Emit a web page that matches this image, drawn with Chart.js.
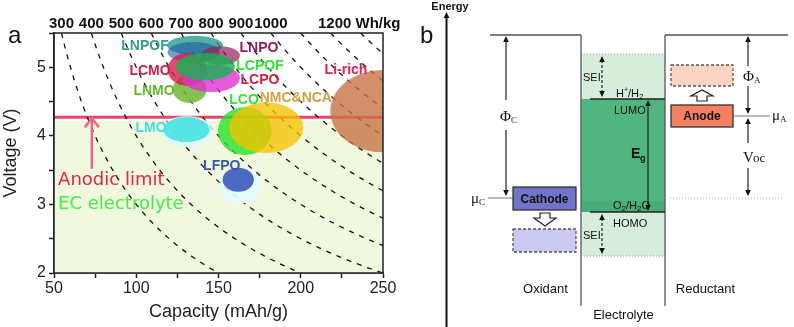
<!DOCTYPE html>
<html>
<head>
  <title>Cathode materials and energy levels</title>
  <script src="https://cdn.jsdelivr.net/npm/chart.js@4.4.1/dist/chart.umd.min.js"></script>
  <style>
    body{margin:0;background:#fff;width:794px;height:327px;overflow:hidden;position:relative}
    #chartA{position:absolute;left:0;top:0}
    #chartB{position:absolute;left:400px;top:0}
  </style>
</head>
<body>
<canvas id="chartA" width="400" height="327"></canvas>
<canvas id="chartB" width="394" height="327"></canvas>

<script>
// ---- panel a data ----
var capMin = 50, capMax = 250
var voltMin = 2, voltMax = 5.5
var energyLines = [300,400,500,600,700,800,900,1000,1100,1200,1300] // Wh/kg iso lines
var energyLabels = [300,400,500,600,700,800,900,1000,1200]
var energyUnit = "Wh/kg"
var anodicLimit = 4.27
var shadeTop = 4.22

// material regions (ellipses), drawn in this order
var regionCap      = [250, 166, 179, 131, 130.5, 163, 162, 132.5, 135.7, 135, 151, 131, 145.5, 142]
var regionVolt     = [4.36, 4.07, 4.12, 4.07, 4.09, 3.28, 3.36, 4.68, 5.32, 5.22, 5.17, 4.97, 4.84, 5.01]
var regionCapHalf  = [32, 16.4, 22.5, 16, 14, 12.5, 9.5, 10.3, 17, 16, 12, 12, 17.5, 18]
var regionVoltHalf = [0.6, 0.35, 0.37, 0.22, 0.18, 0.27, 0.175, 0.2, 0.14, 0.15, 0.135, 0.24, 0.2, 0.2]
var regionColor = [
  "rgba(200,115,70,0.8)",   // Li-rich
  "rgba(40,225,40,0.8)",    // LCO
  "rgba(245,195,0,0.78)",   // NMC&NCA
  "rgba(215,250,250,0.8)",  // LMO halo
  "rgba(60,225,225,0.85)",  // LMO
  "rgba(225,252,252,0.9)",  // LFPO halo
  "rgba(50,80,185,0.85)",   // LFPO
  "rgba(110,185,50,0.85)",  // LNMO
  "rgba(40,155,140,0.8)",   // LNPOF
  "rgba(30,90,170,0.6)",    // LNPOF (inner)
  "rgba(150,30,90,0.7)",    // LNPO
  "rgba(215,30,75,0.8)",    // LCMO
  "rgba(225,50,210,0.8)",   // LCPO
  "rgba(20,180,80,0.8)"     // LCPOF
]

var labelNames = ["LNPOF","LNPO","LCMO","LCPOF","LCPO","LNMO","LMO","LCO","NMC&NCA","Li-rich","LFPO"]
var labelCap   = [105.3, 174.6, 108.4, 175.2, 175.2, 110.8, 109, 165.5, 197, 227.5, 152]
var labelVolt  = [5.31, 5.28, 4.95, 5.01, 4.81, 4.65, 4.11, 4.52, 4.55, 4.96, 3.56]
var labelColor = ["#3a9a95","#8c1f55","#d41d45","#33e233","#d41d45","#66b828","#44dede","#33e233","#d4a040","#e0204a","#3a5aa8"]

// ---- iso-energy curves V = E / C ----
var isoSets = []
for(i=0;i<energyLines.length;i++){
  var E = energyLines[i]
  var c0 = Math.max(capMin, E/voltMax), c1 = Math.min(capMax, E/voltMin)
  var pts = []
  for(c=c0;c<c1;c+=2){ pts.push({x:c, y:E/c}) }
  pts.push({x:c1, y:E/c1})
  isoSets.push({data:pts, showLine:true, pointRadius:0, borderColor:"#111", borderWidth:1.3, borderDash:[5,6]})
}

var panelA = {
  id: "panelA",
  beforeDatasetsDraw: function(chart){
    var ctx = chart.ctx, a = chart.chartArea, y = chart.scales.y
    ctx.save()
    var ys = y.getPixelForValue(shadeTop)
    ctx.fillStyle = "#f0f8de"
    ctx.fillRect(a.left, ys, a.width, a.bottom-ys)
    // anodic limit
    var yl = y.getPixelForValue(anodicLimit)
    ctx.strokeStyle = "#ec4468"; ctx.lineWidth = 3
    ctx.beginPath(); ctx.moveTo(a.left, yl); ctx.lineTo(a.right, yl); ctx.stroke()
    ctx.restore()
  },
  afterDatasetsDraw: function(chart){
    var ctx = chart.ctx, a = chart.chartArea, x = chart.scales.x, y = chart.scales.y
    ctx.save()
    ctx.beginPath(); ctx.rect(a.left, a.top, a.width, a.height); ctx.clip()
    for(i=0;i<regionCap.length;i++){
      var cx = x.getPixelForValue(regionCap[i]), cy = y.getPixelForValue(regionVolt[i])
      var rx = Math.abs(x.getPixelForValue(regionCap[i]+regionCapHalf[i]) - cx)
      var ry = Math.abs(y.getPixelForValue(regionVolt[i]+regionVoltHalf[i]) - cy)
      ctx.fillStyle = regionColor[i]
      ctx.beginPath(); ctx.ellipse(cx, cy, rx, ry, 0, 0, Math.PI*2); ctx.fill()
    }
    ctx.restore()

    ctx.save()
    ctx.font = "bold 14px 'Liberation Sans', Arial"
    ctx.textAlign = "center"; ctx.textBaseline = "middle"
    for(i=0;i<labelNames.length;i++){
      ctx.fillStyle = labelColor[i]
      ctx.fillText(labelNames[i], x.getPixelForValue(labelCap[i]), y.getPixelForValue(labelVolt[i]))
    }
    // arrow to the anodic limit
    var ax = x.getPixelForValue(73), ay0 = y.getPixelForValue(3.52), ay1 = y.getPixelForValue(anodicLimit)+1
    ctx.strokeStyle = "#e8668a"; ctx.lineWidth = 2.5
    ctx.beginPath(); ctx.moveTo(ax, ay0); ctx.lineTo(ax, ay1); ctx.stroke()
    ctx.beginPath(); ctx.moveTo(ax-7, ay1+9); ctx.lineTo(ax, ay1); ctx.lineTo(ax+7, ay1+9); ctx.stroke()
    ctx.textAlign = "left"
    ctx.font = "18px 'DejaVu Sans', sans-serif"
    ctx.fillStyle = "#e8204a"
    ctx.fillText("Anodic limit", x.getPixelForValue(52.5), y.getPixelForValue(3.35))
    ctx.fillStyle = "#44ee44"
    ctx.fillText("EC electrolyte", x.getPixelForValue(52.5), y.getPixelForValue(3.0))
    ctx.restore()
  },
  afterDraw: function(chart){
    var ctx = chart.ctx, a = chart.chartArea, x = chart.scales.x
    ctx.save()
    ctx.strokeStyle = "#222"; ctx.lineWidth = 1.5
    ctx.strokeRect(a.left, a.top, a.width, a.height)
    // energy density labels on top
    ctx.fillStyle = "#111"
    ctx.font = "bold 15px 'Liberation Sans', Arial"
    ctx.textBaseline = "alphabetic"
    for(i=0;i<energyLabels.length;i++){
      var px = x.getPixelForValue(energyLabels[i]/voltMax)
      var t = String(energyLabels[i])
      if(i == energyLabels.length-1){
        ctx.textAlign = "left"
        ctx.fillText(t + " " + energyUnit, px - ctx.measureText(t).width/2 + 4, a.top-5)
      } else {
        ctx.textAlign = "center"
        ctx.fillText(t, px, a.top-5)
      }
    }
    ctx.textAlign = "left"
    ctx.font = "24px 'Liberation Sans', Arial"
    ctx.fillText("a", 8, 43)
    ctx.restore()
  }
}

new Chart(document.getElementById("chartA").getContext("2d"), {
  type: "scatter",
  data: { datasets: isoSets },
  options: {
    responsive: false, animation: false,
    layout: { padding: { top: 33, right: 17, left: 0, bottom: 0 } },
    plugins: { legend: { display: false }, tooltip: { enabled: false } },
    scales: {
      x: {
        type: "linear", min: capMin, max: capMax,
        ticks: { stepSize: 25, autoSkip: false, maxRotation: 0, padding: 1, color: "#222",
          font: { family: "'Liberation Sans', Arial", size: 16 },
          callback: function(v){ return v % 50 === 0 ? v : "" } },
        grid: { drawOnChartArea: false, tickLength: 5, color: "#222", tickWidth: 1.5 },
        border: { color: "#222", width: 1.5 },
        title: { display: true, text: "Capacity (mAh/g)", color: "#222",
          font: { family: "'Liberation Sans', Arial", size: 18 }, padding: { top: 0, bottom: 4 } },
        afterFit: function(s){ s.height = 54 }
      },
      y: {
        type: "linear", min: voltMin, max: voltMax,
        ticks: { stepSize: 0.5, autoSkip: false, padding: 3, color: "#222",
          font: { family: "'Liberation Sans', Arial", size: 16 },
          callback: function(v){ return Number.isInteger(v) ? v : "" } },
        grid: { drawOnChartArea: false, tickLength: 5, color: "#222", tickWidth: 1.5 },
        border: { color: "#222", width: 1.5 },
        title: { display: true, text: "Voltage (V)", color: "#222",
          font: { family: "'Liberation Sans', Arial", size: 18 }, padding: { top: 0, bottom: 0 } },
        afterFit: function(s){ s.width = 54 }
      }
    }
  },
  plugins: [panelA]
})

// ---- panel b: energy diagram (diagram units = pixels of the panel) ----
var levelTop = 35, levelSeiTop = 54, levelLumo = 99, levelMuA = 116, levelMuC = 198, levelHomo = 212, levelSeiBottom = 256, levelFloor = 306
var electrolyteLeft = 181, electrolyteRight = 265

function arrowHead(ctx, x, y, dir){ // dir -1 = up, 1 = down
  ctx.beginPath(); ctx.moveTo(x, y); ctx.lineTo(x-2.8, y-dir*6); ctx.lineTo(x+2.8, y-dir*6); ctx.closePath(); ctx.fill()
}
function vLine(ctx, x, y0, y1){ ctx.beginPath(); ctx.moveTo(x, y0); ctx.lineTo(x, y1); ctx.stroke() }
function hLine(ctx, x0, x1, y){ ctx.beginPath(); ctx.moveTo(x0, y); ctx.lineTo(x1, y); ctx.stroke() }

var panelB = {
  id: "panelB",
  afterDraw: function(chart){
    var ctx = chart.ctx, X = chart.scales.x, Y = chart.scales.y
    var px = function(v){ return X.getPixelForValue(v) }, py = function(v){ return Y.getPixelForValue(v) }
    var L = px(electrolyteLeft), R = px(electrolyteRight)
    ctx.save()
    // electrolyte window
    ctx.fillStyle = "#d7eddc"
    ctx.fillRect(L, py(levelSeiTop), R-L, py(levelLumo)-py(levelSeiTop))
    ctx.fillRect(L, py(levelHomo), R-L, py(levelSeiBottom)-py(levelHomo))
    ctx.fillStyle = "#52b580"
    ctx.fillRect(L, py(levelLumo), R-L, py(levelHomo)-py(levelLumo))
    ctx.fillStyle = "#48ae78"
    ctx.fillRect(L, py(levelHomo-11), R-L, 11)
    ctx.strokeStyle = "#9a9a9a"; ctx.lineWidth = 1; ctx.setLineDash([1,2])
    hLine(ctx, L, R, py(levelSeiTop)); hLine(ctx, L, R, py(levelSeiBottom))
    ctx.strokeStyle = "#aaa"
    hLine(ctx, px(270), px(382), py(levelMuC))
    ctx.setLineDash([])

    // electrode walls
    ctx.strokeStyle = "#555"; ctx.lineWidth = 1.3
    hLine(ctx, px(90), L, py(levelTop)); hLine(ctx, R, px(388), py(levelTop))
    vLine(ctx, L, py(levelTop), py(levelFloor)); vLine(ctx, R, py(levelTop), py(levelFloor))

    // energy axis
    ctx.strokeStyle = "#111"; ctx.fillStyle = "#111"; ctx.lineWidth = 2
    vLine(ctx, px(46.5), py(18), py(327)); arrowHead(ctx, px(46.5), py(12), -1)

    // HOMO / LUMO lines
    ctx.strokeStyle = "#222"; ctx.lineWidth = 1.5
    hLine(ctx, px(190), R, py(levelLumo)); hLine(ctx, px(190), R, py(levelHomo))

    // arrows
    ctx.lineWidth = 1.2
    ctx.setLineDash([3,2])
    vLine(ctx, px(202), py(levelSeiTop+6), py(levelLumo-6)); vLine(ctx, px(202), py(levelHomo+6), py(levelSeiBottom-6))
    ctx.setLineDash([])
    arrowHead(ctx, px(202), py(levelSeiTop+2), -1); arrowHead(ctx, px(202), py(levelLumo-2), 1)
    arrowHead(ctx, px(202), py(levelHomo+2), -1); arrowHead(ctx, px(202), py(levelSeiBottom-2), 1)
    vLine(ctx, px(248), py(levelLumo+4), py(levelHomo-4))
    arrowHead(ctx, px(248), py(levelLumo+1), -1); arrowHead(ctx, px(248), py(levelHomo-1), 1)
    vLine(ctx, px(106), py(levelTop+4), py(100)); vLine(ctx, px(106), py(130), py(levelMuC-6))
    arrowHead(ctx, px(106), py(levelTop+1), -1); arrowHead(ctx, px(106), py(levelMuC-2), 1)
    vLine(ctx, px(348), py(levelTop+4), py(66)); vLine(ctx, px(348), py(86), py(levelMuA-5))
    arrowHead(ctx, px(348), py(levelTop+1), -1); arrowHead(ctx, px(348), py(levelMuA-2), 1)
    vLine(ctx, px(348), py(levelMuA+5), py(143)); vLine(ctx, px(348), py(168), py(levelMuC-5))
    arrowHead(ctx, px(348), py(levelMuA+2), -1); arrowHead(ctx, px(348), py(levelMuC-2), 1)

    // chemical potential ticks
    ctx.strokeStyle = "#777"; ctx.lineWidth = 1
    hLine(ctx, px(88), px(113), py(levelMuC)); hLine(ctx, px(333), px(370), py(levelMuA))

    // electrode boxes
    ctx.strokeStyle = "#333"; ctx.lineWidth = 1.3
    ctx.fillStyle = "#7373c9"
    ctx.fillRect(px(113), py(187), px(176)-px(113), py(210)-py(187)); ctx.strokeRect(px(113), py(187), px(176)-px(113), py(210)-py(187))
    ctx.fillStyle = "#f4805f"
    ctx.fillRect(px(271), py(105), px(333)-px(271), py(127)-py(105)); ctx.strokeRect(px(271), py(105), px(333)-px(271), py(127)-py(105))
    ctx.setLineDash([3,2]); ctx.strokeStyle = "#555"
    ctx.fillStyle = "#cacaf0"
    ctx.fillRect(px(113), py(229), px(176)-px(113), py(252)-py(229)); ctx.strokeRect(px(113), py(229), px(176)-px(113), py(252)-py(229))
    ctx.fillStyle = "#fcd3c4"
    ctx.fillRect(px(271), py(65), px(333)-px(271), py(86)-py(65)); ctx.strokeRect(px(271), py(65), px(333)-px(271), py(86)-py(65))
    ctx.setLineDash([])

    // hollow block arrows
    ctx.fillStyle = "#fff"; ctx.strokeStyle = "#222"; ctx.lineWidth = 1.2
    ctx.beginPath()
    ctx.moveTo(px(140), py(213)); ctx.lineTo(px(150), py(213)); ctx.lineTo(px(150), py(218)); ctx.lineTo(px(156), py(218))
    ctx.lineTo(px(145), py(226)); ctx.lineTo(px(134), py(218)); ctx.lineTo(px(140), py(218)); ctx.closePath()
    ctx.fill(); ctx.stroke()
    ctx.beginPath()
    ctx.moveTo(px(297), py(101)); ctx.lineTo(px(307), py(101)); ctx.lineTo(px(307), py(96)); ctx.lineTo(px(313), py(96))
    ctx.lineTo(px(302), py(90)); ctx.lineTo(px(291), py(96)); ctx.lineTo(px(297), py(96)); ctx.closePath()
    ctx.fill(); ctx.stroke()

    // texts
    ctx.fillStyle = "#111"; ctx.textBaseline = "alphabetic"
    ctx.textAlign = "center"
    ctx.font = "bold 11px 'Liberation Sans', Arial"; ctx.fillText("Energy", px(50), py(10))
    ctx.font = "bold 12px 'Liberation Sans', Arial"
    ctx.fillText("Cathode", px(144.5), py(203)); ctx.fillText("Anode", px(302), py(120))
    ctx.font = "13px 'Liberation Sans', Arial"
    ctx.fillText("Oxidant", px(145.5), py(293)); ctx.fillText("Electrolyte", px(223.5), py(319)); ctx.fillText("Reductant", px(305.5), py(293))
    ctx.textAlign = "left"
    ctx.font = "24px 'Liberation Sans', Arial"; ctx.fillText("b", px(20), py(43))
    ctx.font = "11px 'Liberation Sans', Arial"
    ctx.fillText("SEI", px(183), py(81)); ctx.fillText("SEI", px(183), py(239))
    ctx.fillText("LUMO", px(214), py(114)); ctx.fillText("HOMO", px(213), py(227))
    // H+/H2
    var tx = px(216)
    ctx.fillText("H", tx, py(97)); tx += ctx.measureText("H").width
    ctx.font = "7px 'Liberation Sans', Arial"; ctx.fillText("+", tx, py(92)); tx += ctx.measureText("+").width
    ctx.font = "11px 'Liberation Sans', Arial"; ctx.fillText("/H", tx, py(97)); tx += ctx.measureText("/H").width
    ctx.font = "8px 'Liberation Sans', Arial"; ctx.fillText("2", tx, py(99))
    // O2/H2O
    tx = px(213)
    ctx.font = "11px 'Liberation Sans', Arial"; ctx.fillText("O", tx, py(209)); tx += ctx.measureText("O").width
    ctx.font = "8px 'Liberation Sans', Arial"; ctx.fillText("2", tx, py(211)); tx += ctx.measureText("2").width
    ctx.font = "11px 'Liberation Sans', Arial"; ctx.fillText("/H", tx, py(209)); tx += ctx.measureText("/H").width
    ctx.font = "8px 'Liberation Sans', Arial"; ctx.fillText("2", tx, py(211)); tx += ctx.measureText("2").width
    ctx.font = "11px 'Liberation Sans', Arial"; ctx.fillText("O", tx, py(209))
    // Eg
    ctx.font = "bold 14px 'Liberation Sans', Arial"; ctx.fillText("E", px(231), py(158))
    ctx.font = "bold 9px 'Liberation Sans', Arial"; ctx.fillText("g", px(240), py(161))
    // serif symbols
    var sym = function(main, sub, x, y){
      ctx.font = "15px 'Liberation Serif', serif"; ctx.fillText(main, x, y)
      var w = ctx.measureText(main).width
      ctx.font = "9px 'Liberation Serif', serif"; ctx.fillText(sub, x+w, y+2)
    }
    sym("\u03A6", "C", px(100), py(121))
    sym("\u03A6", "A", px(343), py(81))
    sym("\u03BC", "C", px(71), py(203))
    sym("\u03BC", "A", px(372), py(120))
    ctx.font = "15px 'Liberation Serif', serif"; ctx.fillText("V", px(343), py(162))
    ctx.font = "13px 'Liberation Serif', serif"; ctx.fillText("oc", px(353), py(162))
    ctx.restore()
  }
}

new Chart(document.getElementById("chartB").getContext("2d"), {
  type: "scatter",
  data: { datasets: [] },
  options: {
    responsive: false, animation: false,
    layout: { padding: 0 },
    plugins: { legend: { display: false }, tooltip: { enabled: false } },
    scales: {
      x: { type: "linear", min: 0, max: 394, display: false },
      y: { type: "linear", min: 0, max: 327, reverse: true, display: false }
    }
  },
  plugins: [panelB]
})
</script>
</body>
</html>
